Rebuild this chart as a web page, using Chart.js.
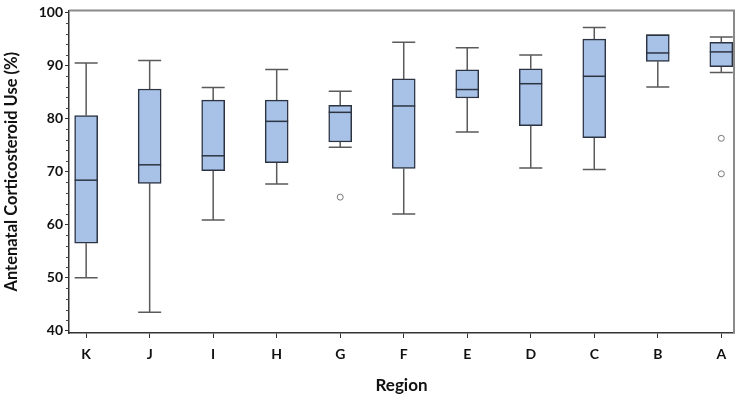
<!DOCTYPE html>
<html>
<head>
<meta charset="utf-8">
<script src="https://cdn.jsdelivr.net/npm/chart.js@4"></script>
<style>
  body { margin: 0; background: #fff; }
  #wrap { width: 742px; height: 405px; }
</style>
</head>
<body>
<div id="wrap"><canvas id="chart" width="742" height="405"></canvas></div>
<script>
// regions, left to right
const regions = ['K', 'J', 'I', 'H', 'G', 'F', 'E', 'D', 'C', 'B', 'A'];
const whiskerLow = [50.0, 43.5, 60.9, 67.7, 74.6, 62.0, 77.5, 70.7, 70.4, 86.0, 88.7];
const q1 = [56.5, 67.8, 70.2, 71.7, 75.6, 70.6, 83.9, 78.7, 76.4, 90.8, 89.8];
const median = [68.4, 71.3, 73.0, 79.5, 81.2, 82.4, 85.5, 86.6, 88.0, 92.4, 92.6];
const q3 = [80.6, 85.6, 83.5, 83.5, 82.5, 87.5, 89.2, 89.4, 95.0, 95.8, 94.4];
const whiskerHigh = [90.5, 91.0, 85.9, 89.3, 85.2, 94.4, 93.4, 92.0, 97.2, 95.8, 95.4];
const outlierRegion = ['G', 'A', 'A'];
const outlierValue = [65.2, 76.3, 69.6];
const yTicks = [40, 50, 60, 70, 80, 90, 100];

const boxWidth = 23;

// whiskers, medians, frame and minor ticks
const boxPlotExtras = {
  id: 'boxPlotExtras',
  beforeDatasetsDraw(chart) {
    const { ctx, scales: { x, y } } = chart;
    ctx.save();
    ctx.strokeStyle = '#5a5a5a';
    ctx.lineWidth = 1.5;
    regions.forEach((r, i) => {
      const px = x.getPixelForValue(i);
      const hw = boxWidth / 2;
      ctx.beginPath();
      ctx.moveTo(px, y.getPixelForValue(q3[i]));
      ctx.lineTo(px, y.getPixelForValue(whiskerHigh[i]));
      ctx.moveTo(px, y.getPixelForValue(q1[i]));
      ctx.lineTo(px, y.getPixelForValue(whiskerLow[i]));
      ctx.moveTo(px - hw, y.getPixelForValue(whiskerHigh[i]));
      ctx.lineTo(px + hw, y.getPixelForValue(whiskerHigh[i]));
      ctx.moveTo(px - hw, y.getPixelForValue(whiskerLow[i]));
      ctx.lineTo(px + hw, y.getPixelForValue(whiskerLow[i]));
      ctx.stroke();
    });
    ctx.restore();
  },
  afterDatasetsDraw(chart) {
    const { ctx, chartArea, scales: { x, y } } = chart;
    ctx.save();
    ctx.strokeStyle = '#2c3442';
    ctx.lineWidth = 1.5;
    regions.forEach((r, i) => {
      const px = x.getPixelForValue(i);
      const py = y.getPixelForValue(median[i]);
      ctx.beginPath();
      ctx.moveTo(px - boxWidth / 2, py);
      ctx.lineTo(px + boxWidth / 2, py);
      ctx.stroke();
    });
    // top and right frame
    ctx.strokeStyle = '#8a8a8a';
    ctx.lineWidth = 2;
    ctx.beginPath();
    ctx.moveTo(chartArea.left, chartArea.top);
    ctx.lineTo(chartArea.right, chartArea.top);
    ctx.lineTo(chartArea.right, chartArea.bottom);
    ctx.stroke();
    // minor ticks on y axis
    ctx.strokeStyle = '#444';
    ctx.lineWidth = 1;
    for (let v = 42; v < 100; v += 2) {
      if (v % 10 === 0) continue;
      const py = Math.round(y.getPixelForValue(v)) + 0.5;
      ctx.beginPath();
      ctx.moveTo(chartArea.left - 3, py);
      ctx.lineTo(chartArea.left, py);
      ctx.stroke();
    }
    ctx.restore();
  }
};

new Chart(document.getElementById('chart'), {
  data: {
    datasets: [
      {
        type: 'bar',
        data: regions.map((r, i) => ({ x: i, y: [q1[i], q3[i]] })),
        backgroundColor: '#a8c1e7',
        borderColor: '#2c3442',
        borderWidth: 1.5,
        borderSkipped: false,
        barThickness: boxWidth
      },
      {
        type: 'scatter',
        data: outlierRegion.map((r, i) => ({ x: regions.indexOf(r), y: outlierValue[i] })),
        backgroundColor: '#ffffff',
        borderColor: '#777',
        borderWidth: 1,
        pointRadius: 3
      }
    ]
  },
  options: {
    responsive: false,
    animation: false,
    layout: { padding: { left: 0, right: 8, top: 5, bottom: 0 } },
    plugins: { legend: { display: false }, tooltip: { enabled: false } },
    scales: {
      x: {
        type: 'linear',
        offset: false,
        min: -0.27,
        max: 10.2,
        afterBuildTicks: (s) => { s.ticks = regions.map((r, i) => ({ value: i })); },
        afterFit: (s) => { s.height = 72; },
        grid: { display: true, offset: false, drawOnChartArea: false, drawTicks: true, tickLength: 5, color: '#333' },
        border: { display: true, color: '#333', width: 1.5 },
        ticks: {
          callback: (v) => regions[v],
          color: '#111',
          padding: 8,
          maxRotation: 0,
          font: { family: 'Lato', weight: 'bold', size: 14 }
        },
        title: {
          display: true,
          text: 'Region',
          color: '#111',
          padding: { top: 0, bottom: 9 },
          font: { family: 'Lato', weight: 'bold', size: 17 }
        }
      },
      y: {
        min: 39.57,
        max: 100.43,
        afterBuildTicks: (s) => { s.ticks = yTicks.map((v) => ({ value: v })); },
        afterFit: (s) => { s.width = 69; },
        grid: { display: true, drawOnChartArea: false, drawTicks: true, tickLength: 4, color: '#333' },
        border: { display: true, color: '#333', width: 1.5 },
        ticks: {
          color: '#111',
          padding: 2,
          font: { family: 'Lato', weight: 'bold', size: 14 }
        },
        title: {
          display: true,
          text: 'Antenatal Corticosteroid Use (%)',
          color: '#111',
          padding: { top: 2, bottom: 0 },
          font: { family: 'Lato', weight: 'bold', size: 16.5 }
        }
      }
    }
  },
  plugins: [boxPlotExtras]
});
</script>
</body>
</html>
